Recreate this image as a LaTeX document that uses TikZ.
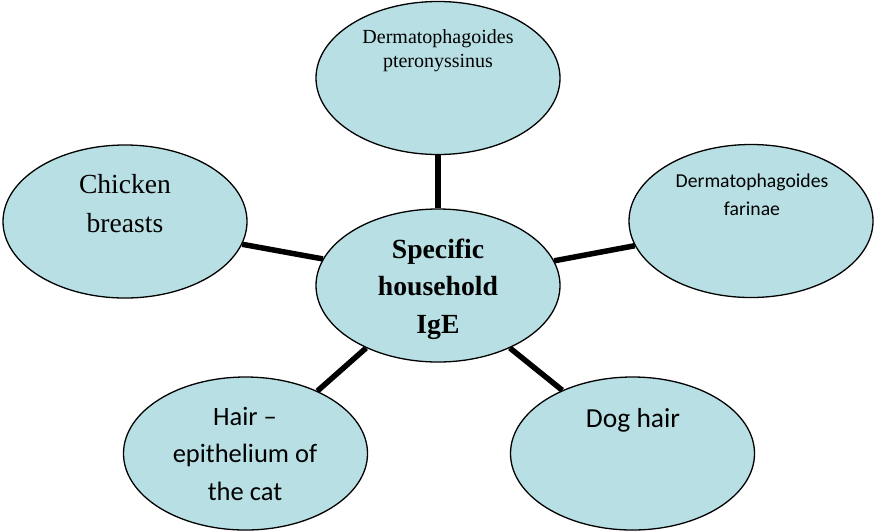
\documentclass[tikz,border=0pt]{standalone}
\usepackage{fontspec}
\setmainfont{Liberation Serif}
\newfontfamily\calfont{Carlito}
\usetikzlibrary{shapes.geometric}
\definecolor{bub}{HTML}{B8E0E4}
\tikzset{
  bubble/.style={ellipse, draw=black, line width=1.3pt, fill=bub,
    minimum width=244pt, minimum height=153pt, inner sep=0pt},
  link/.style={line width=5.5pt, draw=black},
  lbl/.style={anchor=base, align=center, inner sep=0pt}
}
\begin{document}
\begin{tikzpicture}[x=1pt,y=-1pt]
\useasboundingbox (0,0) rectangle (874,531);
\node[bubble] (top) at (438,78) {};
\node[bubble] (mid) at (438,285.5) {};
\node[bubble] (chk) at (125,221.5) {};
\node[bubble] (far) at (751,221) {};
\node[bubble] (hair) at (245.5,453.5) {};
\node[bubble] (dog) at (632.5,453.5) {};

\draw[link] (top.-90) -- (mid.90);
\draw[link] (mid.167.8) -- (chk.-11.4);
\draw[link] (mid.12.3) -- (far.-168.3);
\draw[link] (mid.-41) -- (dog.138.8);
\draw[link] (mid.-139) -- (hair.41.6);

\node[lbl, font=\fontsize{20}{24}\selectfont] (toptxt) at (438,67) {Dermatophagoides\\pteronyssinus};
\node[lbl, font=\fontsize{27.6}{39}\selectfont] (chktxt) at (125,232) {Chicken\\breasts};
\node[lbl, font=\bfseries\fontsize{27.7}{37.5}\selectfont] (midtxt) at (438,333) {Specific\\household\\IgE};
\node[lbl, font=\calfont\fontsize{19.7}{28}\selectfont] (fartxt) at (752,215) {Dermatophagoides\\farinae};
\node[lbl, font=\calfont\fontsize{26.5}{37.5}\selectfont] (hairtxt) at (245,500) {Hair –\\epithelium of\\the cat};
\node[lbl, font=\calfont\fontsize{27.5}{33}\selectfont] (dogtxt) at (633,427) {Dog hair};
\end{tikzpicture}
\end{document}
